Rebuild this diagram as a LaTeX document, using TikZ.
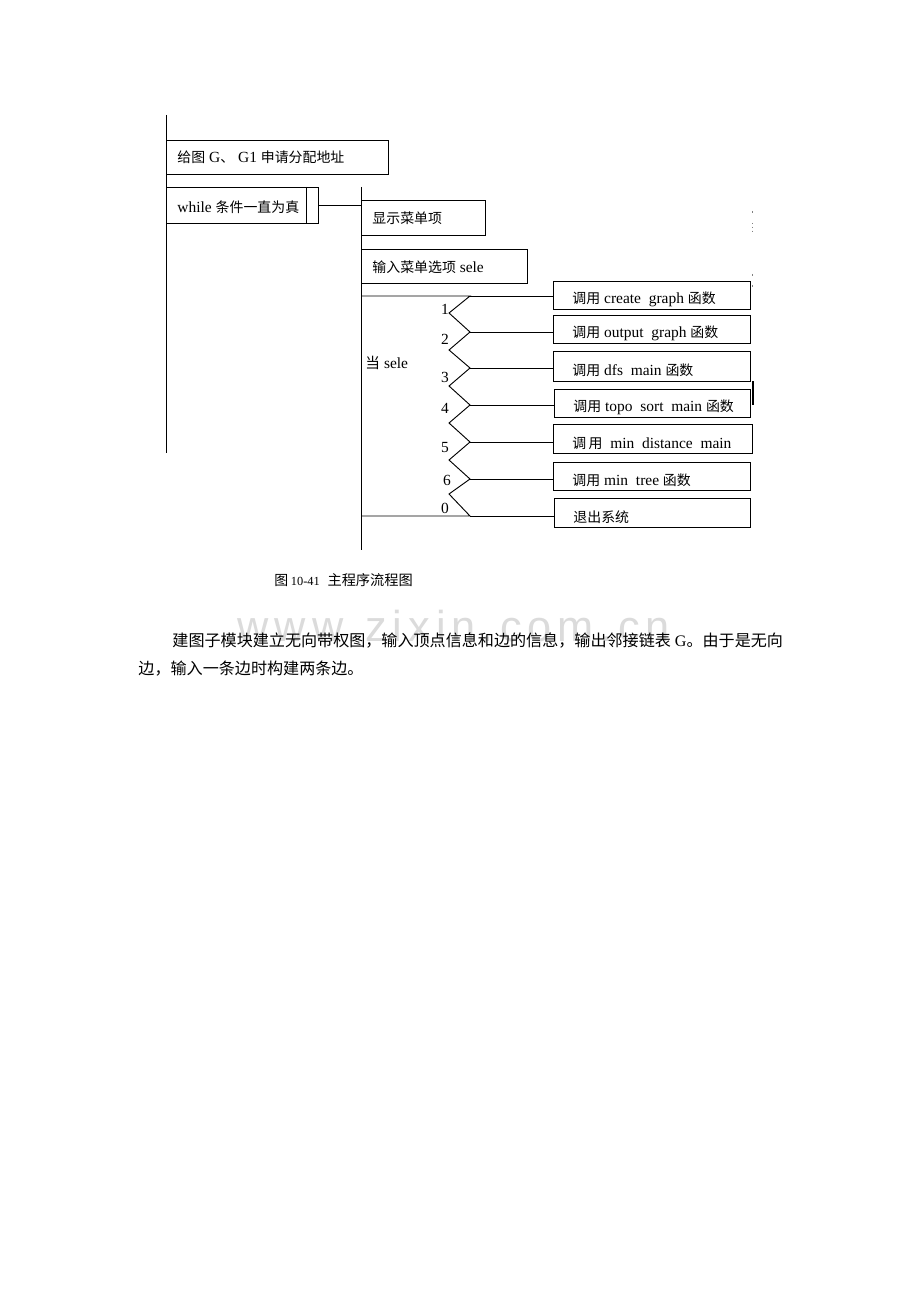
\documentclass[tikz,border=0pt]{standalone}
\usepackage{fontspec}
\setmainfont{Liberation Serif}
\newfontfamily\cjk{Noto Sans CJK SC}
\newfontfamily\wmfont[LetterSpace=14]{Liberation Sans}
\usetikzlibrary{calc}
\newdimen\unitpx
\unitpx=0.6468pt
\newcommand{\zh}[1]{{\cjk\fontsize{9}{10}\selectfont #1}}

\begin{document}
\begin{tikzpicture}[x=0.6468pt, y=-0.6468pt, line width=0.6pt,
    box/.style={draw, anchor=north west, inner sep=0pt},
    sz/.style 2 args={minimum width={#1*\unitpx}, minimum height={#2*\unitpx}},
    txt/.style={anchor=west, inner sep=0pt, font=\fontsize{10}{12}\selectfont},
    num/.style={inner sep=0pt, font=\fontsize{10}{12}\selectfont},
    para/.style={anchor=west, inner sep=0pt, font=\cjk\fontsize{10.4}{12}\selectfont},
    wm/.style={anchor=base west, inner sep=0pt, text=black!14, font=\wmfont\fontsize{28}{30}\selectfont}]

    \path[fill=white, use as bounding box] (0,0) rectangle (920,1302);

    \node[wm] (wmark) at (237,641) {www.zixin.com.cn};

    % outer sequence
    \coordinate (top) at (166,115);
    \coordinate (bot) at (166,453);
    \draw (top) -- (bot);
    \node[box, sz={222}{34}] (alloc) at (166,140) {};
    \node[box, sz={152}{36}] (loop) at (166,187) {};
    \draw ($(loop.north east)+(-12,0)$) -- ($(loop.south east)+(-12,0)$);
    \node[txt] (alloc-t) at (177,157) {\zh{给图} G\zh{、} G1 \zh{申请分配地址}};
    \node[txt] (loop-t) at (177,207) {while \zh{条件一直为真}};

    % loop body
    \coordinate (ltop) at (361,187);
    \coordinate (lbot) at (361,550);
    \draw (ltop) -- (lbot);
    \draw (loop.east) -- (loop.east -| ltop);
    \node[box, sz={124}{35}] (show) at (361,200) {};
    \node[box, sz={166}{34}] (input) at (361,249) {};
    \node[txt] (show-t) at (372,218) {\zh{显示菜单项}};
    \node[txt] (input-t) at (372,267) {\zh{输入菜单选项} sele};

    % case of sele
    \coordinate (ctop) at (361,296);
    \coordinate (cbot) at (361,516);
    \coordinate (r0) at (470,296);
    \coordinate (l1) at (449,313);
    \coordinate (r1) at (470,332);
    \coordinate (l2) at (449,350);
    \coordinate (r2) at (470,368);
    \coordinate (l3) at (449,386);
    \coordinate (r3) at (470,405);
    \coordinate (l4) at (449,423);
    \coordinate (r4) at (470,442);
    \coordinate (l5) at (449,460);
    \coordinate (r5) at (470,479);
    \coordinate (l6) at (449,494);
    \coordinate (r6) at (470,516);
    \draw (ctop) -- (r0) -- (l1) -- (r1) -- (l2) -- (r2) -- (l3) -- (r3)
      -- (l4) -- (r4) -- (l5) -- (r5) -- (l6) -- (r6) -- (cbot);
    \node[txt] (case-t) at (365,363) {{\cjk\fontsize{9.5}{11}\selectfont 当} sele};

    \node[num] (n1) at (445,309) {1};
    \node[num] (n2) at (445,339) {2};
    \node[num] (n3) at (445,377) {3};
    \node[num] (n4) at (445,408) {4};
    \node[num] (n5) at (445,448) {5};
    \node[num] (n6) at (447,480) {6};
    \node[num] (n0) at (445,508) {0};

    \node[box, sz={197}{28}] (call1) at (553,281) {};
    \node[box, sz={197}{28}] (call2) at (553,315) {};
    \node[box, sz={197}{30}] (call3) at (553,351) {};
    \node[box, sz={196}{28}] (call4) at (554,389) {};
    \node[box, sz={199}{29}] (call5) at (553,424) {};
    \node[box, sz={197}{28}] (call6) at (553,462) {};
    \node[box, sz={196}{29}] (quit) at (554,498) {};

    \draw (r0) -- (r0 -| call1.west);
    \draw (r1) -- (r1 -| call2.west);
    \draw (r2) -- (r2 -| call3.west);
    \draw (r3) -- (r3 -| call4.west);
    \draw (r4) -- (r4 -| call5.west);
    \draw (r5) -- (r5 -| call6.west);
    \draw (r6) -- (r6 -| quit.west);

    \node[txt] (call1-t) at (572,299) {\zh{调用} create\enspace graph \zh{函数}};
    \node[txt] (call2-t) at (572,333) {\zh{调用} output\enspace graph \zh{函数}};
    \node[txt] (call3-t) at (572,370) {\zh{调用} dfs\enspace main \zh{函数}};
    \node[txt] (call4-t) at (573,407) {\zh{调用} topo\enspace sort\enspace main \zh{函数}};
    \node[txt] (call5-t) at (572,443) {\zh{调\,用}\enspace min\enspace distance\enspace main};
    \node[txt] (call6-t) at (572,480) {\zh{调用} min\enspace tree \zh{函数}};
    \node[txt] (quit-t) at (573,517) {\zh{退出系统}};

    % stray marks at the right edge
    \draw[line width=0.9pt] ($(call4.north east)+(2,-8)$) -- ($(call4.north east)+(2,16)$);
    \draw[gray, line width=0.5pt] (752,211) -- (752,213);
    \draw[gray, line width=0.5pt, dotted] (752,223) -- (752,234);
    \draw[gray, line width=0.5pt] (752,274) -- (752,276);
    \draw[gray, line width=0.5pt] (752,285) -- (752,287);

    % caption and text
    \node[txt] (cap) at (274,580) {\zh{图}\,{\fontsize{8}{9}\selectfont 10-41}\enspace{\cjk\fontsize{9.2}{10}\selectfont 主程序流程图}};
    \node[para] (p1) at (172,641) {建图子模块建立无向带权图，输入顶点信息和边的信息，输出邻接链表{\rmfamily\ G}。由于是无向};
    \node[para] (p2) at (138,669) {边，输入一条边时构建两条边。};
\end{tikzpicture}
\end{document}
